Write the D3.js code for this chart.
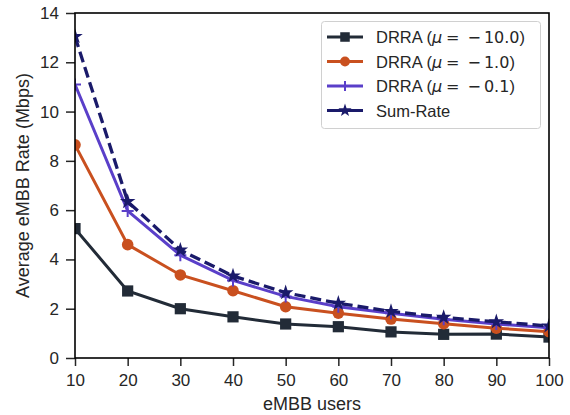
<!DOCTYPE html>
<html><head><meta charset="utf-8">
<script src="https://cdn.jsdelivr.net/npm/d3@7"></script>
<style>body{margin:0;background:#fff}svg{display:block;font-family:"Liberation Sans",Arial,sans-serif}</style>
</head><body><svg id="c" width="570" height="415"></svg>
<script>
const users = [10,20,30,40,50,60,70,80,90,100];
const drraMu10 = [5.25,2.72,2.0,1.67,1.38,1.27,1.06,0.96,0.97,0.85];
const drraMu1 = [8.65,4.6,3.37,2.73,2.08,1.82,1.58,1.39,1.21,1.07];
const drraMu01 = [11.1,5.97,4.17,3.15,2.5,2.08,1.82,1.57,1.38,1.23];
const sumRate = [13.05,6.35,4.38,3.33,2.65,2.22,1.89,1.65,1.47,1.3];
const xTicks = [10,20,30,40,50,60,70,80,90,100];
const yTicks = [0,2,4,6,8,10,12,14];
const muValues = ["10.0","1.0","0.1"];
const seriesNames = ["DRRA (\u03bc = \u2212 10.0)","DRRA (\u03bc = \u2212 1.0)","DRRA (\u03bc = \u2212 0.1)","Sum-Rate"];

const series = [
 {name:seriesNames[0], vals:drraMu10, color:"#222b37", marker:"square", dash:null},
 {name:seriesNames[1], vals:drraMu1, color:"#c9501f", marker:"circle", dash:null},
 {name:seriesNames[2], vals:drraMu01, color:"#5a3fc9", marker:"plus", dash:null},
 {name:seriesNames[3], vals:sumRate, color:"#1a1a6a", marker:"star", dash:"11,5"}
];

const svg = d3.select("#c");
const L=75,R=549,T=13,B=358;
const x = d3.scaleLinear().domain([10,100]).range([L,R]);
const y = d3.scaleLinear().domain([0,14]).range([B,T]);

svg.append("defs").append("clipPath").attr("id","clip").append("rect")
 .attr("x",L).attr("y",T).attr("width",R-L).attr("height",B-T);

// axes
const xa = svg.append("g").attr("transform",`translate(0,${B})`)
 .call(d3.axisBottom(x).tickValues(xTicks).tickSize(8).tickPadding(8));
const ya = svg.append("g").attr("transform",`translate(${L},0)`)
 .call(d3.axisLeft(y).tickValues(yTicks).tickSize(9).tickPadding(7));
[xa,ya].forEach(a=>{
 a.selectAll("text").attr("font-size",17).attr("fill","#262626").attr("font-family","Liberation Sans, Arial, sans-serif");
 a.selectAll("line").attr("stroke","#262626").attr("stroke-width",1.5);
 a.select(".domain").remove();
});

svg.append("text").attr("x",(L+R)/2).attr("y",410).attr("text-anchor","middle")
 .attr("font-size",18).attr("fill","#262626").text("eMBB users");
svg.append("text").attr("transform",`translate(29,${(T+B)/2}) rotate(-90)`).attr("text-anchor","middle")
 .attr("font-size",18).attr("fill","#262626").text("Average eMBB Rate (Mbps)");

function drawMarker(sel, type, color, cx, cy, scale){
 scale = scale||1;
 if(type==="square"){
  sel.append("rect").attr("x",cx-5.6*scale).attr("y",cy-5.6*scale).attr("width",11.2*scale).attr("height",11.2*scale).attr("fill",color);
 } else if(type==="circle"){
  sel.append("circle").attr("cx",cx).attr("cy",cy).attr("r",5.8*scale).attr("fill",color);
 } else if(type==="plus"){
  sel.append("path").attr("d",`M${cx-6*scale},${cy}H${cx+6*scale}M${cx},${cy-6*scale}V${cy+6*scale}`)
   .attr("stroke",color).attr("stroke-width",2);
 } else if(type==="star"){
  sel.append("path").attr("d",d3.symbol().type(d3.symbolStar).size(75*scale*scale)())
   .attr("transform",`translate(${cx},${cy})`).attr("fill",color);
 }
}

const plot = svg.append("g").attr("clip-path","url(#clip)");
series.forEach(s=>{
 const line = d3.line().x((d,i)=>x(users[i])).y(d=>y(d));
 plot.append("path").datum(s.vals).attr("d",line).attr("fill","none")
  .attr("stroke",s.color).attr("stroke-width",s.dash?3.3:3).attr("stroke-dasharray",s.dash);
 s.vals.forEach((v,i)=>drawMarker(plot,s.marker,s.color,x(users[i]),y(v)));
});

// frame
svg.append("rect").attr("x",L).attr("y",T).attr("width",R-L).attr("height",B-T)
 .attr("fill","none").attr("stroke","#000").attr("stroke-width",1.6);

// legend
const lg = svg.append("g");
lg.append("rect").attr("x",321.5).attr("y",21.5).attr("width",219).attr("height",107).attr("rx",3)
 .attr("fill","#fff").attr("stroke","#d0d0d0").attr("stroke-width",1);
series.forEach((s,i)=>{
 const yy = 37 + i*24.5;
 lg.append("line").attr("x1",327).attr("x2",363).attr("y1",yy).attr("y2",yy)
  .attr("stroke",s.color).attr("stroke-width",3);
 drawMarker(lg,s.marker,s.color,345,yy,0.85);
 const t = lg.append("text").attr("x",376).attr("y",yy+6).attr("font-size",16.5).attr("fill","#262626");
 if(i<3){
  t.append("tspan").text("DRRA (");
  t.append("tspan").attr("font-style","italic").attr("font-family","DejaVu Sans").attr("font-size",16).text("\u03bc");
  t.append("tspan").attr("dx",4).attr("font-family","DejaVu Sans").attr("font-size",16).text("=");
  t.append("tspan").attr("dx",8).attr("font-family","DejaVu Sans").attr("font-size",16).text("\u2212");
  t.append("tspan").attr("dx",3).attr("font-family","DejaVu Sans").attr("font-size",16).text(muValues[i]);
  t.append("tspan").text(")");
 } else t.text(s.name);
});
</script></body></html>
